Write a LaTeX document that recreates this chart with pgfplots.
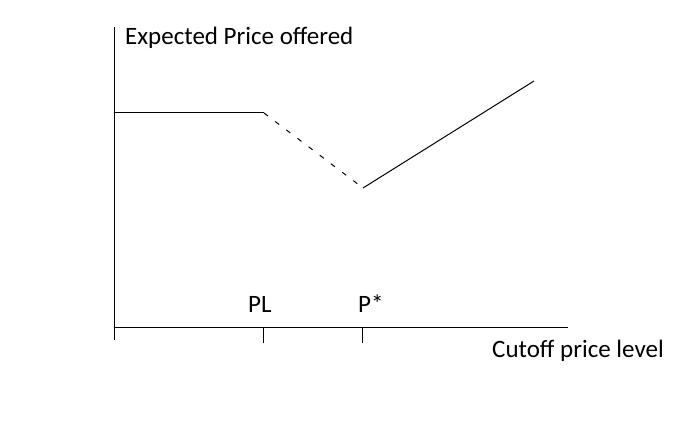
\documentclass[border=0pt]{standalone}
\usepackage{fontspec}
\setmainfont{Carlito}
\usepackage{pgfplots}
\pgfplotsset{compat=1.18}
\tikzset{lbl/.style={font=\fontsize{25bp}{29bp}\selectfont, inner sep=0pt, anchor=base west}}
\begin{document}
\begin{tikzpicture}
\path[use as bounding box] (0,0) rectangle (683bp,425bp);
\begin{axis}[
  at={(114bp,85bp)}, anchor=south west,
  scale only axis, width=454bp, height=313bp,
  xmin=0, xmax=4.54, ymin=-0.12, ymax=3.01,
  axis lines=middle, axis line style={-, line width=1bp, black},
  xtick={1.49,2.48}, xticklabels={}, ytick=\empty,
  tick align=outside, major tick length=15bp,
  tick style={line width=1bp, black},
  clip=false]
\addplot[black, line width=1bp] coordinates {(0,2.15) (1.50,2.15)};
\addplot[black, line width=1bp, dash pattern=on 5bp off 9bp] coordinates {(1.50,2.15) (2.49,1.40)};
\addplot[black, line width=1bp] coordinates {(2.49,1.40) (4.20,2.47)};
\node[lbl] at (axis cs:0.11,2.83) {Expected Price offered};
\node[lbl] at (axis cs:1.34,0.16) {PL};
\node[lbl] at (axis cs:2.44,0.16) {P*};
\node[lbl] at (axis cs:3.78,-0.29) {Cutoff price level};
\end{axis}
\end{tikzpicture}
\end{document}
